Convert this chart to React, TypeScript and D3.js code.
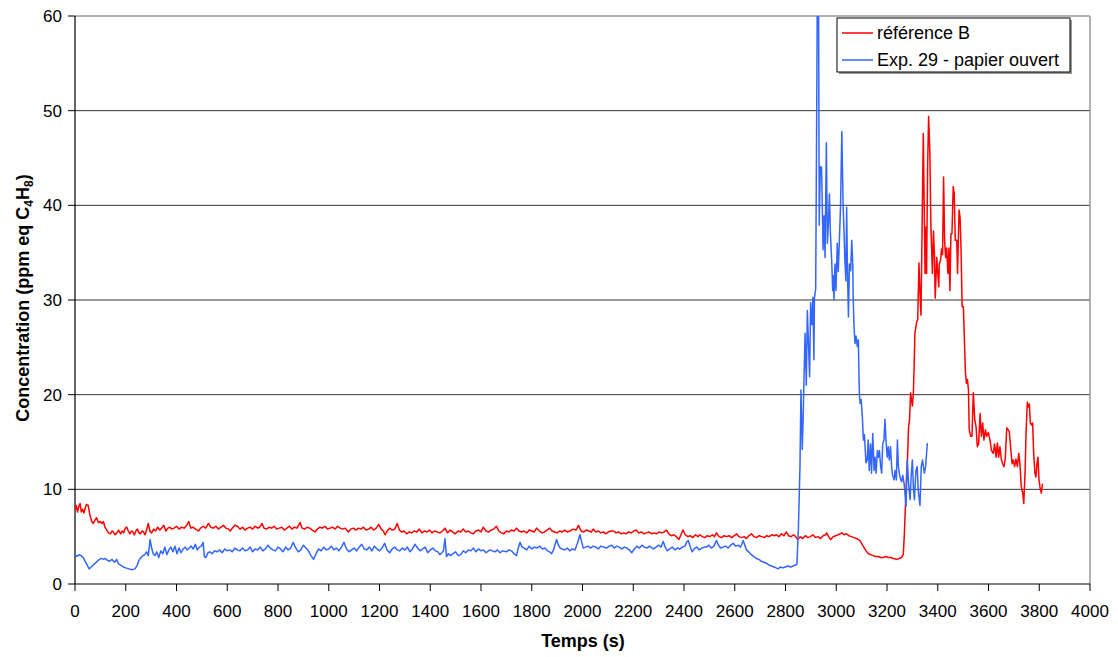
import React from "react";
import * as d3 from "d3";

// Series: [time (s), concentration (ppm eq C4H8)]
const refB: [number, number][] = [
  [0,7.8],[5,8.3],[10,7.6],[15,8.2],[20,8.5],[25,7.6],[30,7.9],[35,7.5],[40,8.0],[45,8.4],[52,8.3],[58,7.4],[66,6.6],[72,6.4],[80,6.8],[85,7.0],[92,6.5],[100,6.6],[106,6.4],[112,6.6],[118,6.0],[125,5.7],[132,5.4],[140,5.3],[146,5.6],[151,5.5],[158,5.2],[165,5.4],[172,5.7],[180,5.3],[186,5.6],[192,5.4],[198,5.9],[204,6.0],[210,5.6],[216,5.3],[222,5.6],[228,5.5],[234,5.2],[240,5.6],[246,5.8],[252,5.4],[258,5.3],[264,5.6],[270,5.5],[276,5.2],[282,5.7],[289,6.4],[295,5.6],[302,5.4],[310,5.8],[318,5.6],[326,6.0],[334,5.7],[342,5.9],[350,6.2],[358,5.6],[366,5.9],[374,6.0],[382,5.8],[390,5.9],[400,6.1],[410,5.8],[420,6.0],[430,5.9],[440,6.2],[448,6.6],[456,5.9],[465,6.0],[475,5.8],[487,5.6],[495,5.9],[505,6.1],[515,5.9],[526,6.4],[535,6.0],[545,5.9],[555,6.1],[565,5.8],[575,6.0],[585,6.2],[595,5.9],[605,5.8],[612,5.6],[620,5.9],[630,6.2],[640,6.1],[650,5.8],[660,6.0],[670,5.7],[680,5.9],[690,6.0],[700,5.8],[710,6.1],[720,5.9],[728,6.0],[737,6.4],[745,5.9],[755,5.8],[765,6.0],[775,5.9],[785,6.1],[795,5.8],[805,5.9],[815,6.0],[825,5.7],[835,5.9],[845,6.1],[855,5.8],[865,6.0],[875,5.9],[887,6.5],[895,5.9],[905,5.8],[915,6.0],[925,5.9],[935,5.7],[946,5.5],[955,5.8],[965,6.0],[975,5.9],[985,6.1],[995,5.8],[1005,5.9],[1015,6.0],[1025,5.8],[1035,6.1],[1045,5.9],[1055,5.8],[1065,5.9],[1077,5.5],[1087,5.8],[1097,5.9],[1107,5.7],[1117,5.9],[1127,5.8],[1137,6.0],[1147,5.7],[1157,5.8],[1167,6.0],[1177,5.7],[1187,5.9],[1197,6.3],[1207,5.8],[1215,5.6],[1222,5.2],[1230,5.6],[1240,5.9],[1250,5.7],[1260,5.8],[1270,6.4],[1278,5.7],[1287,5.5],[1297,5.6],[1307,5.3],[1317,5.5],[1327,5.4],[1337,5.6],[1347,5.5],[1357,5.8],[1367,5.4],[1377,5.6],[1387,5.5],[1397,5.7],[1407,5.4],[1417,5.6],[1427,5.5],[1438,5.4],[1448,5.6],[1458,5.9],[1468,5.4],[1478,5.7],[1488,5.5],[1498,5.3],[1510,5.6],[1520,5.5],
  [1530,5.8],[1540,5.5],[1550,5.6],[1560,5.4],[1570,5.3],[1580,5.6],[1590,5.7],[1600,5.5],[1609,6.0],[1620,5.6],[1630,5.5],[1640,5.7],[1650,5.8],[1661,6.1],[1670,5.6],[1680,5.4],[1690,5.3],[1700,5.6],[1710,5.5],[1720,5.7],[1730,5.6],[1740,5.9],[1750,5.6],[1760,5.5],[1770,5.6],[1780,5.4],[1790,5.7],[1800,5.6],[1810,5.5],[1819,5.9],[1830,5.6],[1840,5.4],[1850,5.5],[1860,5.7],[1871,5.9],[1880,5.6],[1890,5.5],[1900,5.4],[1910,5.6],[1920,5.5],[1930,5.7],[1940,5.5],[1950,5.6],[1964,5.8],[1975,5.7],[1984,6.2],[1995,5.6],[2005,5.5],[2015,5.7],[2025,5.6],[2035,5.5],[2042,5.8],[2052,5.5],[2062,5.6],[2072,5.4],[2082,5.5],[2092,5.3],[2102,5.5],[2112,5.6],[2122,5.6],[2132,5.4],[2142,5.5],[2152,5.3],[2162,5.4],[2172,5.3],[2182,5.5],[2192,5.4],[2202,5.6],[2212,5.7],[2222,5.4],[2232,5.5],[2242,5.3],[2252,5.4],[2262,5.5],[2272,5.3],[2282,5.4],[2292,5.3],[2302,5.5],[2312,5.4],[2322,5.5],[2331,5.7],[2340,5.3],[2350,5.1],[2360,5.2],[2370,5.0],[2380,4.7],[2388,5.2],[2396,5.7],[2405,5.2],[2415,5.0],[2425,5.1],[2435,4.9],[2445,5.2],[2455,5.0],[2462,5.2],[2472,5.0],[2482,4.9],[2492,5.1],[2502,5.0],[2512,5.2],[2520,5.0],[2528,5.4],[2538,5.0],[2548,4.9],[2558,5.1],[2568,5.0],[2578,5.1],[2588,4.9],[2598,5.1],[2607,5.3],[2617,5.0],[2627,4.9],[2637,5.0],[2646,4.8],[2656,5.1],[2666,5.3],[2676,5.0],[2686,4.9],[2696,5.1],[2706,5.0],[2716,4.9],[2726,5.1],[2736,5.0],[2746,5.2],[2756,5.1],[2764,5.2],[2774,5.0],[2784,5.3],[2794,5.1],[2803,5.5],[2812,5.1],[2822,5.0],[2832,5.2],[2840,5.0],[2848,4.7],[2858,5.0],[2868,4.8],[2878,5.1],[2888,4.9],[2898,5.0],[2908,5.2],[2918,4.9],[2928,5.0],[2938,4.8],[2948,5.1],[2958,5.2],[2962,5.4],[2970,5.0],[2978,4.7],[2988,5.0],[2998,5.1],[3008,5.2],[3015,5.3],[3022,5.4],[3030,5.2],[3040,5.3],[3050,5.1],[3060,5.0],[3070,4.9],[3080,4.8],[3093,4.6],[3100,4.3],[3106,4.0],[3113,3.7],[3120,3.4],[3127,3.2],[3135,3.1],[3145,3.0],[3155,2.9],[3165,2.9],[3175,2.8],[3185,2.8],[3195,2.9],[3205,2.8],[3215,2.8],[3225,2.7],[3238,2.6],[3248,2.7],[3257,2.8],[3264,3.1],
  [3268,5.0],[3271,7.1],[3277,11.3],[3281,13.4],[3285,16.6],[3289,17.4],[3293,20.2],[3300,18.8],[3304,20.2],[3307,23.0],[3310,26.5],[3317,27.7],[3321,27.9],[3326,33.9],[3330,30.7],[3334,28.4],[3343,47.6],[3350,32.8],[3354,37.7],[3356,32.8],[3360,44.0],[3364,49.4],[3369,45.5],[3373,37.7],[3379,32.8],[3383,37.3],[3387,34.8],[3390,30.2],[3396,34.5],[3400,32.8],[3404,31.4],[3406,33.8],[3411,34.2],[3415,35.4],[3419,34.8],[3423,43.0],[3427,36.3],[3431,34.5],[3435,35.5],[3440,32.8],[3444,35.5],[3448,31.0],[3452,37.0],[3456,37.0],[3461,42.0],[3465,41.2],[3469,36.3],[3475,36.3],[3478,32.8],[3484,39.5],[3488,38.7],[3492,35.2],[3496,29.3],[3501,29.3],[3505,25.8],[3509,22.4],[3513,21.2],[3517,21.6],[3521,20.5],[3524,16.3],[3530,15.6],[3535,15.6],[3540,20.2],[3546,17.3],[3551,16.6],[3556,14.5],[3561,14.8],[3567,18.0],[3572,15.6],[3577,17.0],[3582,15.2],[3588,16.3],[3593,15.6],[3599,16.0],[3606,15.2],[3612,14.1],[3619,13.8],[3624,14.8],[3630,13.4],[3635,14.9],[3640,13.4],[3645,14.5],[3651,13.1],[3656,12.7],[3661,12.4],[3666,13.2],[3672,16.5],[3677,16.3],[3682,16.1],[3687,14.5],[3693,12.7],[3698,13.1],[3703,12.4],[3708,13.2],[3714,12.4],[3719,13.8],[3724,12.7],[3729,10.3],[3735,9.6],[3739,8.5],[3744,11.7],[3748,16.0],[3753,19.2],[3757,18.7],[3761,19.0],[3765,17.0],[3770,16.8],[3774,17.0],[3778,13.8],[3783,11.7],[3787,11.3],[3791,12.7],[3795,13.4],[3799,11.0],[3803,10.2],[3808,9.6],[3813,10.6]
];

const exp29: [number, number][] = [
  [0,3.1],[8,2.9],[16,3.1],[24,3.0],[32,2.8],[40,2.4],[48,2.0],[56,1.6],[64,1.8],[72,2.0],[80,2.2],[88,2.4],[96,2.6],[104,2.7],[112,2.6],[120,2.7],[128,2.5],[136,2.4],[146,2.6],[156,2.3],[164,2.6],[172,2.1],[180,2.0],[190,1.8],[200,1.7],[212,1.6],[224,1.5],[236,1.6],[244,1.9],[252,2.5],[260,2.8],[268,3.0],[275,3.1],[282,3.4],[289,3.0],[296,4.7],[302,3.8],[308,3.2],[315,3.0],[322,3.4],[330,2.8],[338,3.5],[346,3.2],[354,3.9],[362,3.1],[370,3.6],[378,3.9],[386,3.4],[394,4.0],[402,3.2],[410,3.8],[418,3.3],[426,3.7],[434,3.9],[442,3.6],[450,3.8],[458,4.0],[466,3.7],[474,4.2],[482,3.6],[490,3.9],[498,4.0],[505,4.4],[510,2.9],[516,2.8],[524,3.3],[532,3.4],[540,3.2],[550,3.5],[560,3.4],[570,3.6],[580,3.3],[590,3.7],[600,3.5],[610,3.6],[620,3.4],[630,3.8],[640,3.6],[650,3.5],[660,3.8],[670,3.5],[680,3.6],[690,3.9],[700,3.4],[710,3.7],[720,3.6],[730,3.9],[740,3.5],[750,3.7],[760,4.1],[770,3.8],[780,3.6],[790,3.5],[800,3.9],[810,3.7],[820,3.4],[830,3.9],[840,3.6],[850,3.8],[860,4.4],[870,3.8],[880,3.4],[890,3.6],[900,4.1],[910,3.8],[920,3.5],[930,3.0],[940,2.6],[950,3.2],[960,3.7],[970,3.5],[980,3.9],[990,3.6],[1000,3.7],[1010,4.0],[1020,3.6],[1030,3.8],[1040,3.5],[1050,3.9],[1060,4.4],[1070,3.7],[1080,3.4],[1090,3.6],[1100,3.8],[1110,3.5],[1120,3.9],[1130,4.2],[1140,3.7],[1150,3.6],[1160,3.9],[1170,3.5],[1180,4.0],[1190,3.7],[1200,3.5],[1210,3.8],[1220,4.3],[1230,3.6],[1240,3.3],[1250,3.7],[1260,3.9],[1270,3.6],[1280,3.5],[1290,3.8],[1300,3.6],[1310,3.9],[1320,3.4],[1330,3.7],[1340,4.2],[1350,3.8],[1360,3.5],[1370,3.7],[1380,3.9],[1390,3.3],[1400,3.6],[1410,3.8],[1420,3.5],[1430,3.4],[1438,3.1],[1446,3.3],[1452,3.5],[1458,4.8],[1464,2.9],[1472,3.2],[1480,3.0],[1490,3.2],[1500,3.4],[1510,3.0],[1520,3.1],[1530,3.5],[1540,3.3],[1550,3.6],[1560,3.5],[1570,3.8],[1580,3.4],[1590,3.7],[1600,3.5],[1610,3.6],[1620,3.3],[1635,3.6],[1645,3.5],[1655,3.4],[1665,3.6],[1675,3.3],[1685,3.5],[1700,3.4],[1710,3.6],[1720,3.5],[1730,3.2],[1740,3.0],[1747,3.8],[1754,4.4],[1762,3.9],[1770,3.8],[1780,3.6],[1790,4.0],[1800,3.7],[1810,3.9],[1820,3.8],[1832,4.0],[1842,3.7],[1852,3.8],[1862,3.5],[1870,3.4],[1878,3.2],[1886,3.6],[1892,4.2],[1898,4.7],[1905,4.1],[1912,3.8],[1920,3.7],[1930,3.6],[1940,3.8],[1950,3.5],[1960,3.7],[1970,3.6],[1980,4.3],[1990,5.2],[1996,4.5],[2003,3.8],[2012,3.9],[2022,4.0],[2032,3.8],[2042,4.0],[2052,3.9],[2062,3.7],[2072,4.0],[2082,3.9],[2095,3.8],[2105,4.0],[2115,4.1],[2125,3.8],[2135,4.0],[2145,3.9],[2155,3.7],[2165,3.9],[2175,3.8],[2185,3.6],[2194,3.3],[2204,3.7],[2214,4.0],[2224,3.8],[2234,4.1],[2244,3.9],[2254,3.8],[2264,4.0],[2279,3.7],[2290,3.9],[2300,4.1],[2310,3.9],[2318,4.5],[2326,3.9],[2334,3.5],[2344,3.7],[2354,3.9],[2364,3.6],[2374,3.8],[2384,3.7],[2394,3.9],[2404,4.0],[2410,4.4],[2417,4.6],[2425,3.9],[2432,3.4],[2440,3.7],[2450,3.9],[2460,3.6],[2470,3.8],[2480,3.9],[2489,3.9],[2498,4.1],[2508,3.8],[2518,4.0],[2528,4.6],[2536,4.1],[2544,3.8],[2554,3.9],[2564,4.0],[2574,3.8],[2584,4.1],[2594,4.3],[2604,4.0],[2614,4.1],[2622,3.9],[2628,4.2],[2633,4.6],[2640,4.1],[2646,3.6],[2655,3.4],[2665,3.1],[2675,2.9],[2685,2.7],[2695,2.6],[2705,2.4],[2715,2.3],[2725,2.2],[2735,2.0],[2745,1.9],[2755,1.8],[2763,1.7],[2771,1.6],[2780,1.8],[2790,1.7],[2800,1.8],[2810,1.9],[2820,1.8],[2830,1.9],[2840,2.0],[2845,2.1],
  [2851,6.0],[2857,12.4],[2861,20.5],[2866,14.2],[2870,18.0],[2877,26.5],[2882,21.0],[2886,28.9],[2895,21.9],[2899,29.7],[2904,27.4],[2908,30.3],[2912,23.7],[2914,30.2],[2919,31.2],[2923,50.0],[2926,66.0],[2930,64.0],[2933,37.9],[2937,44.1],[2942,44.0],[2945,40.0],[2948,35.3],[2952,38.9],[2956,34.5],[2961,46.6],[2965,36.0],[2969,38.0],[2973,41.2],[2977,37.0],[2982,34.2],[2986,31.0],[2989,32.6],[2991,30.0],[2995,33.8],[2999,31.0],[3004,36.0],[3008,33.0],[3012,36.0],[3017,40.0],[3022,47.8],[3027,40.0],[3031,37.0],[3034,34.2],[3038,32.0],[3041,39.8],[3044,33.5],[3048,28.2],[3052,33.8],[3057,33.1],[3061,36.3],[3065,33.8],[3067,30.0],[3070,27.2],[3074,25.4],[3078,26.2],[3083,25.1],[3087,25.8],[3091,20.2],[3094,19.1],[3098,19.5],[3103,17.6],[3107,15.2],[3111,15.8],[3117,12.8],[3122,13.1],[3126,15.2],[3130,12.0],[3135,14.8],[3139,11.7],[3144,15.9],[3149,12.0],[3153,13.4],[3157,11.7],[3162,14.1],[3166,13.4],[3170,14.1],[3175,12.4],[3179,11.7],[3183,14.8],[3188,15.2],[3192,17.4],[3196,15.2],[3201,13.4],[3205,14.5],[3209,13.1],[3214,14.5],[3218,12.4],[3222,11.5],[3228,11.0],[3232,12.0],[3237,11.0],[3241,15.2],[3245,12.4],[3250,11.5],[3254,11.0],[3258,10.8],[3262,11.5],[3268,10.5],[3275,8.2],[3280,13.1],[3285,10.6],[3291,8.9],[3295,11.3],[3300,13.1],[3304,10.2],[3308,8.9],[3314,12.0],[3319,12.4],[3323,9.9],[3330,8.3],[3335,12.4],[3340,13.1],[3347,11.7],[3352,12.4],[3359,14.9]
];

const xTicks = d3.range(0, 4001, 200);
const yTicks = [0, 10, 20, 30, 40, 50, 60];
const seriesNames = ["référence B", "Exp. 29 - papier ouvert"];
const seriesColors = ["#FF0000", "#3366FF"];

export default function App() {
  const W = 1118, H = 657;
  const left = 75, right = 1090, top = 16, bottom = 584;
  const x = d3.scaleLinear().domain([0, 4000]).range([left, right]);
  const y = d3.scaleLinear().domain([0, 60]).range([bottom, top]);
  const line = d3.line<[number, number]>().x(d => x(d[0])).y(d => y(d[1]));
  const font = "'Liberation Sans', Arial, sans-serif";

  return (
    <div>
      <style>{`body{margin:0;}`}</style>
      <svg width={W} height={H} style={{ display: "block", fontFamily: font }}>
        <defs>
          <clipPath id="plot">
            <rect x={left} y={top} width={right - left} height={bottom - top} />
          </clipPath>
        </defs>
        <rect x={0} y={0} width={W} height={H} fill="#fff" />
        {yTicks.filter(v => v > 0 && v < 60).map(v => (
          <line key={"g" + v} x1={left} x2={right} y1={y(v)} y2={y(v)} stroke="#333" strokeWidth={1} />
        ))}
        {/* frame top/right */}
        <line x1={left} x2={right} y1={top} y2={top} stroke="#999" strokeWidth={1.5} />
        <line x1={right} x2={right} y1={top} y2={bottom} stroke="#999" strokeWidth={1.5} />
        {/* axes */}
        <line x1={left} x2={left} y1={top} y2={bottom} stroke="#000" strokeWidth={1.2} />
        <line x1={left} x2={right} y1={bottom} y2={bottom} stroke="#000" strokeWidth={1.2} />
        {yTicks.map(v => (
          <g key={"y" + v}>
            <line x1={left - 7} x2={left} y1={y(v)} y2={y(v)} stroke="#000" strokeWidth={1} />
            <text x={62} y={y(v)} dy="0.35em" textAnchor="end" fontSize={17} fill="#000">{v}</text>
          </g>
        ))}
        {xTicks.map(v => (
          <g key={"x" + v}>
            <line x1={x(v)} x2={x(v)} y1={bottom} y2={bottom + 7} stroke="#000" strokeWidth={1} />
            <text x={x(v)} y={617} textAnchor="middle" fontSize={17} fill="#000">{v}</text>
          </g>
        ))}
        <g clipPath="url(#plot)">
          <path d={line(refB) || ""} fill="none" stroke={seriesColors[0]} strokeWidth={1.5} strokeLinejoin="round" />
          <path d={line(exp29) || ""} fill="none" stroke={seriesColors[1]} strokeWidth={1.5} strokeLinejoin="round" />
        </g>
        {/* axis titles */}
        <text x={583} y={647} textAnchor="middle" fontSize={18} fontWeight="bold" fill="#000">Temps (s)</text>
        <text transform="translate(29,298) rotate(-90)" textAnchor="middle" fontSize={18} fontWeight="bold" fill="#000">
          Concentration (ppm eq C<tspan fontSize={12} dy={4}>4</tspan><tspan dy={-4}>H</tspan><tspan fontSize={12} dy={4}>8</tspan><tspan dy={-4}>)</tspan>
        </text>
        {/* legend */}
        <rect x={839} y={20} width={233} height={54} fill="#999" />
        <rect x={837} y={18} width={233} height={54} fill="#fff" stroke="#000" strokeWidth={1} />
        {seriesNames.map((n, i) => (
          <g key={n}>
            <line x1={842} x2={873} y1={33 + i * 27} y2={33 + i * 27} stroke={seriesColors[i]} strokeWidth={1.5} />
            <text x={877} y={39 + i * 27} fontSize={18} fill="#000">{n}</text>
          </g>
        ))}
      </svg>
    </div>
  );
}
